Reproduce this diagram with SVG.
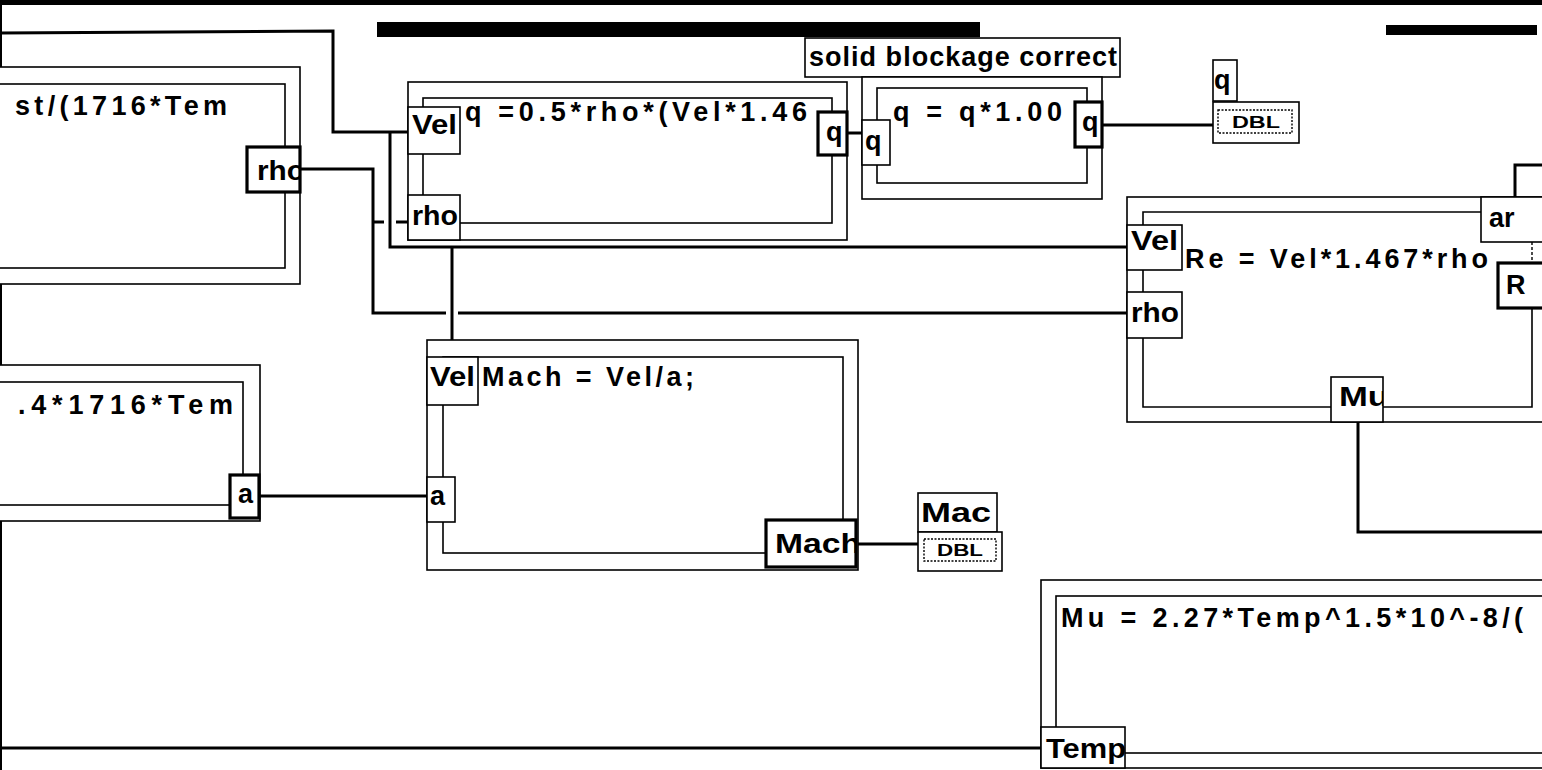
<svg xmlns="http://www.w3.org/2000/svg" width="1542" height="770" viewBox="0 0 1542 770">
<style>
.frame{fill:none;stroke:#000;stroke-width:1.6}
.ofr{fill:#fff;stroke:#000;stroke-width:1.6}
.term{fill:#fff;stroke:#000;stroke-width:1.6}
.out{fill:#fff;stroke:#000;stroke-width:3.2}
.wire{fill:none;stroke:#000;stroke-width:3}
.txt{font-family:"Liberation Sans",Arial,sans-serif;font-weight:bold;font-size:27px;fill:#000}
.dbl{font-family:"Liberation Sans",Arial,sans-serif;font-weight:bold;font-size:16px;fill:#000}
.dot{fill:none;stroke:#000;stroke-width:1.4;stroke-dasharray:2 1.5}
</style>
<defs>
<clipPath id="cRho"><rect x="247" y="147" width="53" height="45"/></clipPath>
<clipPath id="cQ1"><rect x="818" y="112" width="29" height="43"/></clipPath>
<clipPath id="cQ2"><rect x="1075" y="102" width="27" height="45"/></clipPath>
<clipPath id="cA"><rect x="230" y="475" width="29" height="43"/></clipPath>
<clipPath id="cMach"><rect x="766" y="520" width="90" height="47"/></clipPath>
<clipPath id="cMu"><rect x="1331" y="377" width="52" height="45"/></clipPath>
<clipPath id="cTemp"><rect x="1041" y="727" width="84" height="41"/></clipPath>
<clipPath id="cMac"><rect x="918" y="493" width="79" height="39"/></clipPath>
</defs>
<rect x="0" y="0" width="1542" height="770" fill="#fff"/>
<!-- top border and bars -->
<rect x="0" y="0" width="1542" height="5" fill="#000"/>
<line x1="1" y1="0" x2="1" y2="770" stroke="#000" stroke-width="2"/>
<rect x="377" y="22" width="603" height="15" fill="#000"/>
<rect x="1386" y="25" width="151" height="10" fill="#000"/>

<g id="connectors">
  <polyline class="wire" points="0,33 333,31 333,132 408,132"/>
  <polyline class="wire" points="390,132 390,247 1127,247"/>
  <polyline class="wire" points="452,247 452,357"/>
  <polyline class="wire" points="300,169 373,169 373,313 446,313"/>
  <line class="wire" x1="458" y1="313" x2="1127" y2="313"/>
  <line class="wire" x1="373" y1="222" x2="384" y2="222"/>
  <line class="wire" x1="396" y1="222" x2="408" y2="222"/>
  <line class="wire" x1="847" y1="133" x2="862" y2="133"/>
  <line class="wire" x1="1102" y1="125" x2="1213" y2="125"/>
  <line class="wire" x1="259" y1="496" x2="427" y2="496"/>
  <line class="wire" x1="856" y1="544" x2="918" y2="544"/>
  <polyline class="wire" points="1515,197 1515,165 1542,165"/>
  <polyline class="wire" points="1358,422 1358,532 1542,532"/>
  <line class="wire" x1="0" y1="748" x2="1041" y2="748"/>
</g>

<g id="node-rho">
  <rect class="ofr" x="-10" y="67" width="310" height="217"/>
  <rect class="frame" x="-10" y="84" width="295" height="184"/>
  <text class="txt" x="15" y="115" textLength="212" lengthAdjust="spacing">st/(1716*Tem</text>
  <rect class="out" x="247" y="147" width="53" height="45"/>
  <text class="txt" x="257" y="180" textLength="48" lengthAdjust="spacingAndGlyphs" clip-path="url(#cRho)">rho</text>
</g>

<g id="node-a">
  <rect class="ofr" x="-10" y="365" width="270" height="156"/>
  <rect class="frame" x="-10" y="382" width="253" height="123"/>
  <text class="txt" x="18" y="414" textLength="215" lengthAdjust="spacing">.4*1716*Tem</text>
  <rect class="out" x="230" y="475" width="29" height="43"/>
  <text class="txt" x="238" y="503" clip-path="url(#cA)">a</text>
</g>

<g id="node-q">
  <rect class="ofr" x="408" y="82" width="439" height="158"/>
  <rect class="frame" x="423" y="98" width="409" height="125"/>
  <text class="txt" x="465" y="121" textLength="342" lengthAdjust="spacing">q =0.5*rho*(Vel*1.46</text>
  <rect class="term" x="408" y="107" width="52" height="47"/>
  <text class="txt" x="412" y="134" textLength="45" lengthAdjust="spacingAndGlyphs">Vel</text>
  <rect class="term" x="408" y="195" width="52" height="45"/>
  <text class="txt" x="412" y="225" textLength="46" lengthAdjust="spacingAndGlyphs">rho</text>
  <rect class="out" x="818" y="112" width="29" height="43"/>
  <text class="txt" x="826" y="141" clip-path="url(#cQ1)">q</text>
</g>

<g id="node-label">
  <rect class="term" x="805" y="38" width="315" height="39"/>
  <text class="txt" x="809" y="66" textLength="308" lengthAdjust="spacing">solid blockage correct</text>
</g>

<g id="node-q2">
  <rect class="ofr" x="862" y="77" width="240" height="122"/>
  <rect class="frame" x="877" y="88" width="210" height="95"/>
  <text class="txt" x="893" y="121" textLength="169" lengthAdjust="spacing">q = q*1.00</text>
  <rect class="term" x="862" y="120" width="28" height="45"/>
  <text class="txt" x="865" y="150">q</text>
  <rect class="out" x="1075" y="102" width="27" height="45"/>
  <text class="txt" x="1082" y="131" clip-path="url(#cQ2)">q</text>
</g>

<g id="ind-q">
  <rect class="term" x="1213" y="60" width="24" height="41"/>
  <text class="txt" x="1214" y="89">q</text>
  <rect class="term" x="1213" y="102" width="86" height="41"/>
  <rect class="dot" x="1218" y="110" width="74" height="23"/>
  <text class="dbl" x="1232" y="128" textLength="48" lengthAdjust="spacingAndGlyphs">DBL</text>
</g>

<g id="node-re">
  <rect class="ofr" x="1127" y="197" width="440" height="225"/>
  <path class="frame" d="M1532,212 H1143 V407 H1532 V308"/>
  <line x1="1532" y1="242" x2="1532" y2="263" stroke="#000" stroke-width="1.4" stroke-dasharray="3 2"/>
  <text class="txt" x="1185" y="268" textLength="303" lengthAdjust="spacing">Re = Vel*1.467*rho</text>
  <rect class="term" x="1127" y="225" width="55" height="45"/>
  <text class="txt" x="1131" y="250" textLength="47" lengthAdjust="spacingAndGlyphs">Vel</text>
  <rect class="term" x="1127" y="292" width="55" height="46"/>
  <text class="txt" x="1131" y="322" textLength="48" lengthAdjust="spacingAndGlyphs">rho</text>
  <rect class="term" x="1481" y="197" width="70" height="45"/>
  <text class="txt" x="1489" y="227">ar</text>
  <rect class="out" x="1498" y="263" width="60" height="45"/>
  <text class="txt" x="1506" y="294">R</text>
  <rect class="term" x="1331" y="377" width="52" height="45"/>
  <text class="txt" x="1339" y="406" textLength="50" lengthAdjust="spacingAndGlyphs" clip-path="url(#cMu)">Mu</text>
</g>

<g id="node-mach">
  <rect class="ofr" x="427" y="340" width="431" height="230"/>
  <rect class="frame" x="443" y="357" width="400" height="196"/>
  <text class="txt" x="482" y="386" textLength="212" lengthAdjust="spacing">Mach = Vel/a;</text>
  <rect class="term" x="427" y="357" width="51" height="48"/>
  <text class="txt" x="430" y="386" textLength="45" lengthAdjust="spacingAndGlyphs">Vel</text>
  <rect class="term" x="427" y="477" width="28" height="45"/>
  <text class="txt" x="430" y="505">a</text>
  <rect class="out" x="766" y="520" width="90" height="47"/>
  <text class="txt" x="775" y="553" textLength="86" lengthAdjust="spacingAndGlyphs" clip-path="url(#cMach)">Mach</text>
</g>

<g id="ind-mach">
  <rect class="term" x="918" y="493" width="79" height="39"/>
  <text class="txt" x="921" y="522" textLength="70" lengthAdjust="spacingAndGlyphs" clip-path="url(#cMac)">Mac</text>
  <rect class="term" x="918" y="532" width="84" height="39"/>
  <rect class="dot" x="924" y="539" width="72" height="22"/>
  <text class="dbl" x="937" y="556" textLength="46" lengthAdjust="spacingAndGlyphs">DBL</text>
</g>

<g id="node-mu">
  <rect class="ofr" x="1041" y="580" width="520" height="188"/>
  <rect class="frame" x="1056" y="596" width="505" height="157"/>
  <text class="txt" x="1061" y="627" textLength="462" lengthAdjust="spacing">Mu = 2.27*Temp^1.5*10^-8/(</text>
  <rect class="term" x="1041" y="727" width="84" height="41"/>
  <text class="txt" x="1046" y="758" textLength="80" lengthAdjust="spacingAndGlyphs" clip-path="url(#cTemp)">Temp</text>
</g>
</svg>
